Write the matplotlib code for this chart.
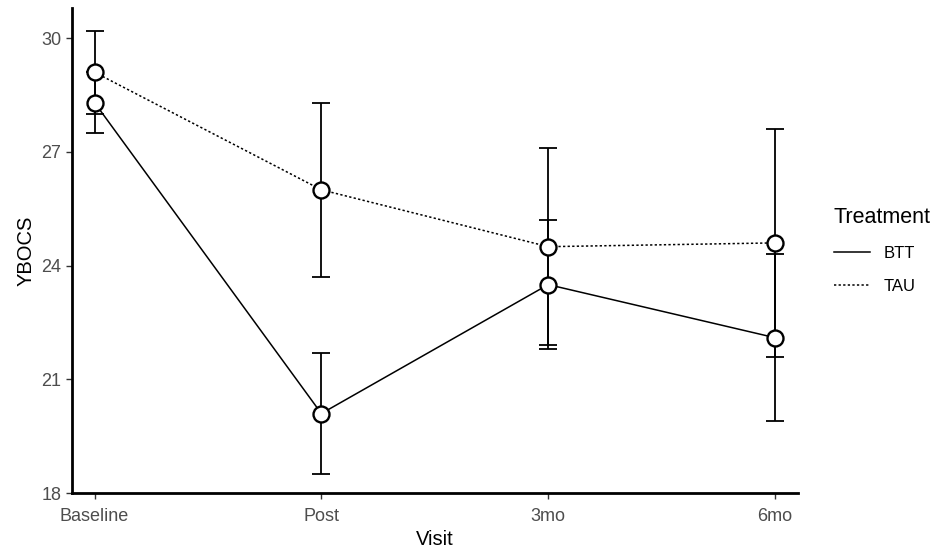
import matplotlib
matplotlib.use("Agg")
import matplotlib.pyplot as plt
from matplotlib.lines import Line2D

plt.rcParams['font.family'] = ['Liberation Sans', 'DejaVu Sans']

visits = ["Baseline", "Post", "3mo", "6mo"]
btt_mean = [28.3, 20.1, 23.5, 22.1]
btt_err = [0.8, 1.6, 1.7, 2.2]
tau_mean = [29.1, 26.0, 24.5, 24.6]
tau_err = [1.1, 2.3, 2.6, 3.0]

x = list(range(len(visits)))

fig = plt.figure(figsize=(9.33, 5.56), dpi=100)
ax = fig.add_axes([0.077, 0.113, 0.778, 0.873])

dots = (0, (1.5, 1.5))
groups = [("BTT", btt_mean, btt_err, "-"), ("TAU", tau_mean, tau_err, dots)]
for name, m, e, ls in groups:
    ax.errorbar(x, m, yerr=e, fmt="none", ecolor="black", elinewidth=1.3,
                capsize=6.5, capthick=1.3, zorder=2)
for name, m, e, ls in groups:
    ax.plot(x, m, color="black", linestyle=ls, linewidth=1.1, zorder=3)
    ax.plot(x, m, linestyle="none", marker="o", markersize=11.5,
            markerfacecolor="white", markeredgecolor="black",
            markeredgewidth=1.7, zorder=4)

ax.set_xlim(-0.1, 3.1)
ax.set_ylim(18, 30.8)
ax.set_xticks(x)
ax.set_xticklabels(visits)
ax.set_yticks([18, 21, 24, 27, 30])

for s in ["top", "right"]:
    ax.spines[s].set_visible(False)
for s in ["left", "bottom"]:
    ax.spines[s].set_linewidth(2.0)
    ax.spines[s].set_color("black")

ax.tick_params(axis="both", colors="#333333", labelcolor="#4D4D4D",
               labelsize=13, length=4, width=1)
ax.tick_params(axis="x", pad=7)
ax.set_xlabel("Visit", fontsize=14.5, labelpad=3)
ax.set_ylabel("YBOCS", fontsize=14.5, labelpad=4)

handles = [Line2D([], [], color="black", linestyle="-", linewidth=1.1),
           Line2D([], [], color="black", linestyle=dots, linewidth=1.1)]
leg = ax.legend(handles, ["BTT", "TAU"], title="Treatment", loc="center left",
                bbox_to_anchor=(1.029, 0.5), frameon=False, fontsize=12,
                title_fontsize=15.5, handlelength=2.2, labelspacing=1.1,
                alignment="left")

fig.savefig("out.png", dpi=100)
